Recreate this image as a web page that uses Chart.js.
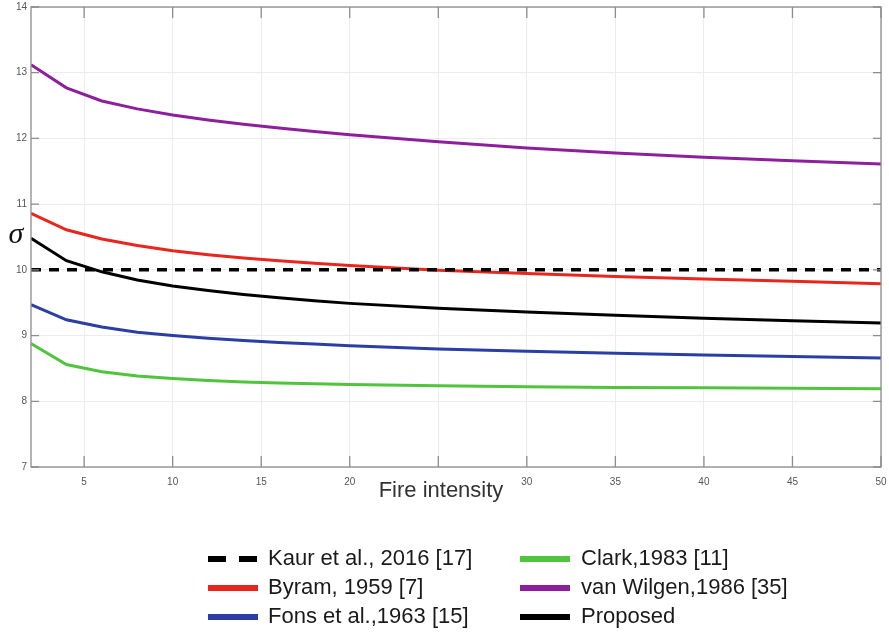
<!DOCTYPE html>
<html>
<head>
<meta charset="utf-8">
<script src="https://cdn.jsdelivr.net/npm/chart.js@4.4.1/dist/chart.umd.min.js"></script>
<style>
  html, body { margin: 0; padding: 0; background: #fff; }
  canvas { display: block; }
</style>
</head>
<body>
<canvas id="myChart" width="889" height="636"></canvas>
<script>
// fire intensity samples
const intensity = [2, 4, 6, 8, 10, 12, 14, 16, 18, 20, 25, 30, 35, 40, 45, 50];

const byram = [10.86, 10.61, 10.47, 10.37, 10.29, 10.23, 10.18, 10.14, 10.10, 10.065, 9.995, 9.945, 9.90, 9.86, 9.825, 9.79];
const fons = [9.47, 9.24, 9.13, 9.05, 9.00, 8.96, 8.925, 8.895, 8.87, 8.845, 8.795, 8.76, 8.73, 8.705, 8.68, 8.66];
const clark = [8.88, 8.56, 8.45, 8.385, 8.345, 8.315, 8.295, 8.28, 8.265, 8.255, 8.235, 8.22, 8.21, 8.205, 8.20, 8.19];
const vanWilgen = [13.12, 12.77, 12.57, 12.45, 12.355, 12.28, 12.215, 12.16, 12.105, 12.055, 11.95, 11.855, 11.78, 11.715, 11.66, 11.61];
const proposed = [10.48, 10.14, 9.97, 9.845, 9.755, 9.685, 9.625, 9.575, 9.53, 9.49, 9.415, 9.36, 9.31, 9.265, 9.225, 9.19];

// Kaur et al. is a flat reference level
const kaurX = [2, 50];
const kaur = [10, 10];

const xTicks = [5, 10, 15, 20, 25, 30, 35, 40, 45, 50];
const yTicks = [7, 8, 9, 10, 11, 12, 13, 14];
// the 25 label sits under the axis title, so it is left blank
const hiddenXLabels = [25];

const toPoints = (xs, ys) => xs.map((x, i) => ({ x: x, y: ys[i] }));

const series = [
  { label: "Kaur et al., 2016 [17]", data: toPoints(kaurX, kaur), color: "#000000", dash: [10, 8], width: 3.5 },
  { label: "Byram, 1959 [7]", data: toPoints(intensity, byram), color: "#e8261e" },
  { label: "Fons et al.,1963 [15]", data: toPoints(intensity, fons), color: "#2b3ea6" },
  { label: "Clark,1983 [11]", data: toPoints(intensity, clark), color: "#4fc43c" },
  { label: "van Wilgen,1986 [35]", data: toPoints(intensity, vanWilgen), color: "#8e1f9c" },
  { label: "Proposed", data: toPoints(intensity, proposed), color: "#000000" },
];

const FONT = "'Liberation Sans', Arial, Helvetica, sans-serif";
Chart.defaults.font.family = FONT;

// frame, inward ticks, axis titles and the two-column legend
const decorations = {
  id: "decorations",
  afterDatasetsDraw(chart) {
    const ctx = chart.ctx;
    const a = chart.chartArea;
    const xs = chart.scales.x;
    const ys = chart.scales.y;

    ctx.save();
    ctx.strokeStyle = "#8c8c8c";
    ctx.lineWidth = 1.3;
    ctx.strokeRect(a.left, a.top, a.right - a.left, a.bottom - a.top);

    ctx.beginPath();
    xTicks.forEach((v) => {
      const px = xs.getPixelForValue(v);
      ctx.moveTo(px, a.bottom);
      ctx.lineTo(px, a.bottom - 11);
      ctx.moveTo(px, a.top);
      ctx.lineTo(px, a.top + 11);
    });
    yTicks.forEach((v) => {
      const py = ys.getPixelForValue(v);
      ctx.moveTo(a.left, py);
      ctx.lineTo(a.left + 8, py);
      ctx.moveTo(a.right, py);
      ctx.lineTo(a.right - 8, py);
    });
    ctx.stroke();
    ctx.restore();
  },
  afterDraw(chart) {
    const ctx = chart.ctx;
    ctx.save();

    // y axis symbol
    ctx.fillStyle = "#111";
    ctx.font = "italic 30px 'Liberation Serif', 'DejaVu Serif', serif";
    ctx.textAlign = "center";
    ctx.textBaseline = "alphabetic";
    ctx.fillText("σ", 16, 243);

    // x axis title
    ctx.fillStyle = "#333";
    ctx.font = "22px " + FONT;
    ctx.fillText("Fire intensity", 441, 497);

    // legend
    const sampleX = [208, 520];
    const textX = [268, 581];
    const rowY = [559, 588, 617];
    ctx.textAlign = "left";
    ctx.textBaseline = "middle";
    chart.data.datasets.forEach((ds, i) => {
      const col = i < 3 ? 0 : 1;
      const y = rowY[i % 3];
      ctx.beginPath();
      ctx.strokeStyle = ds.borderColor;
      ctx.lineWidth = 6;
      ctx.setLineDash(ds.borderDash && ds.borderDash.length ? [18, 13] : []);
      ctx.moveTo(sampleX[col], y);
      ctx.lineTo(sampleX[col] + 50, y);
      ctx.stroke();
      ctx.setLineDash([]);
      ctx.fillStyle = "#1a1a1a";
      ctx.fillText(ds.label, textX[col], y);
    });
    ctx.restore();
  },
};

const config = {
  type: "line",
  data: {
    datasets: series.map((s) => ({
      label: s.label,
      data: s.data,
      borderColor: s.color,
      backgroundColor: s.color,
      borderWidth: s.width || 3,
      borderDash: s.dash || [],
      pointRadius: 0,
      tension: 0,
      fill: false,
    })),
  },
  options: {
    responsive: false,
    animation: false,
    layout: { padding: { left: 0, top: 7, right: 8, bottom: 0 } },
    plugins: {
      legend: { display: false },
      tooltip: { enabled: false },
    },
    scales: {
      x: {
        type: "linear",
        min: 2,
        max: 50,
        afterFit: (scale) => {
          scale.height = 169;
          scale.paddingLeft = 0;
          scale.paddingRight = 0;
        },
        afterBuildTicks: (scale) => {
          scale.ticks = xTicks.map((v) => ({ value: v }));
        },
        border: { display: false },
        grid: { color: "#ececec", lineWidth: 1, drawTicks: false },
        ticks: {
          padding: 9,
          color: "#555",
          font: { size: 10 },
          callback: (v) => (hiddenXLabels.includes(v) ? "" : v),
        },
      },
      y: {
        min: 7,
        max: 14,
        afterFit: (scale) => {
          scale.width = 31;
          scale.paddingTop = 0;
          scale.paddingBottom = 0;
        },
        afterBuildTicks: (scale) => {
          scale.ticks = yTicks.map((v) => ({ value: v }));
        },
        border: { display: false },
        grid: { color: "#ececec", lineWidth: 1, drawTicks: false },
        ticks: { padding: 4, color: "#555", font: { size: 10 } },
      },
    },
  },
  plugins: [decorations],
};

const chart = new Chart(document.getElementById("myChart"), config);
</script>
</body>
</html>
